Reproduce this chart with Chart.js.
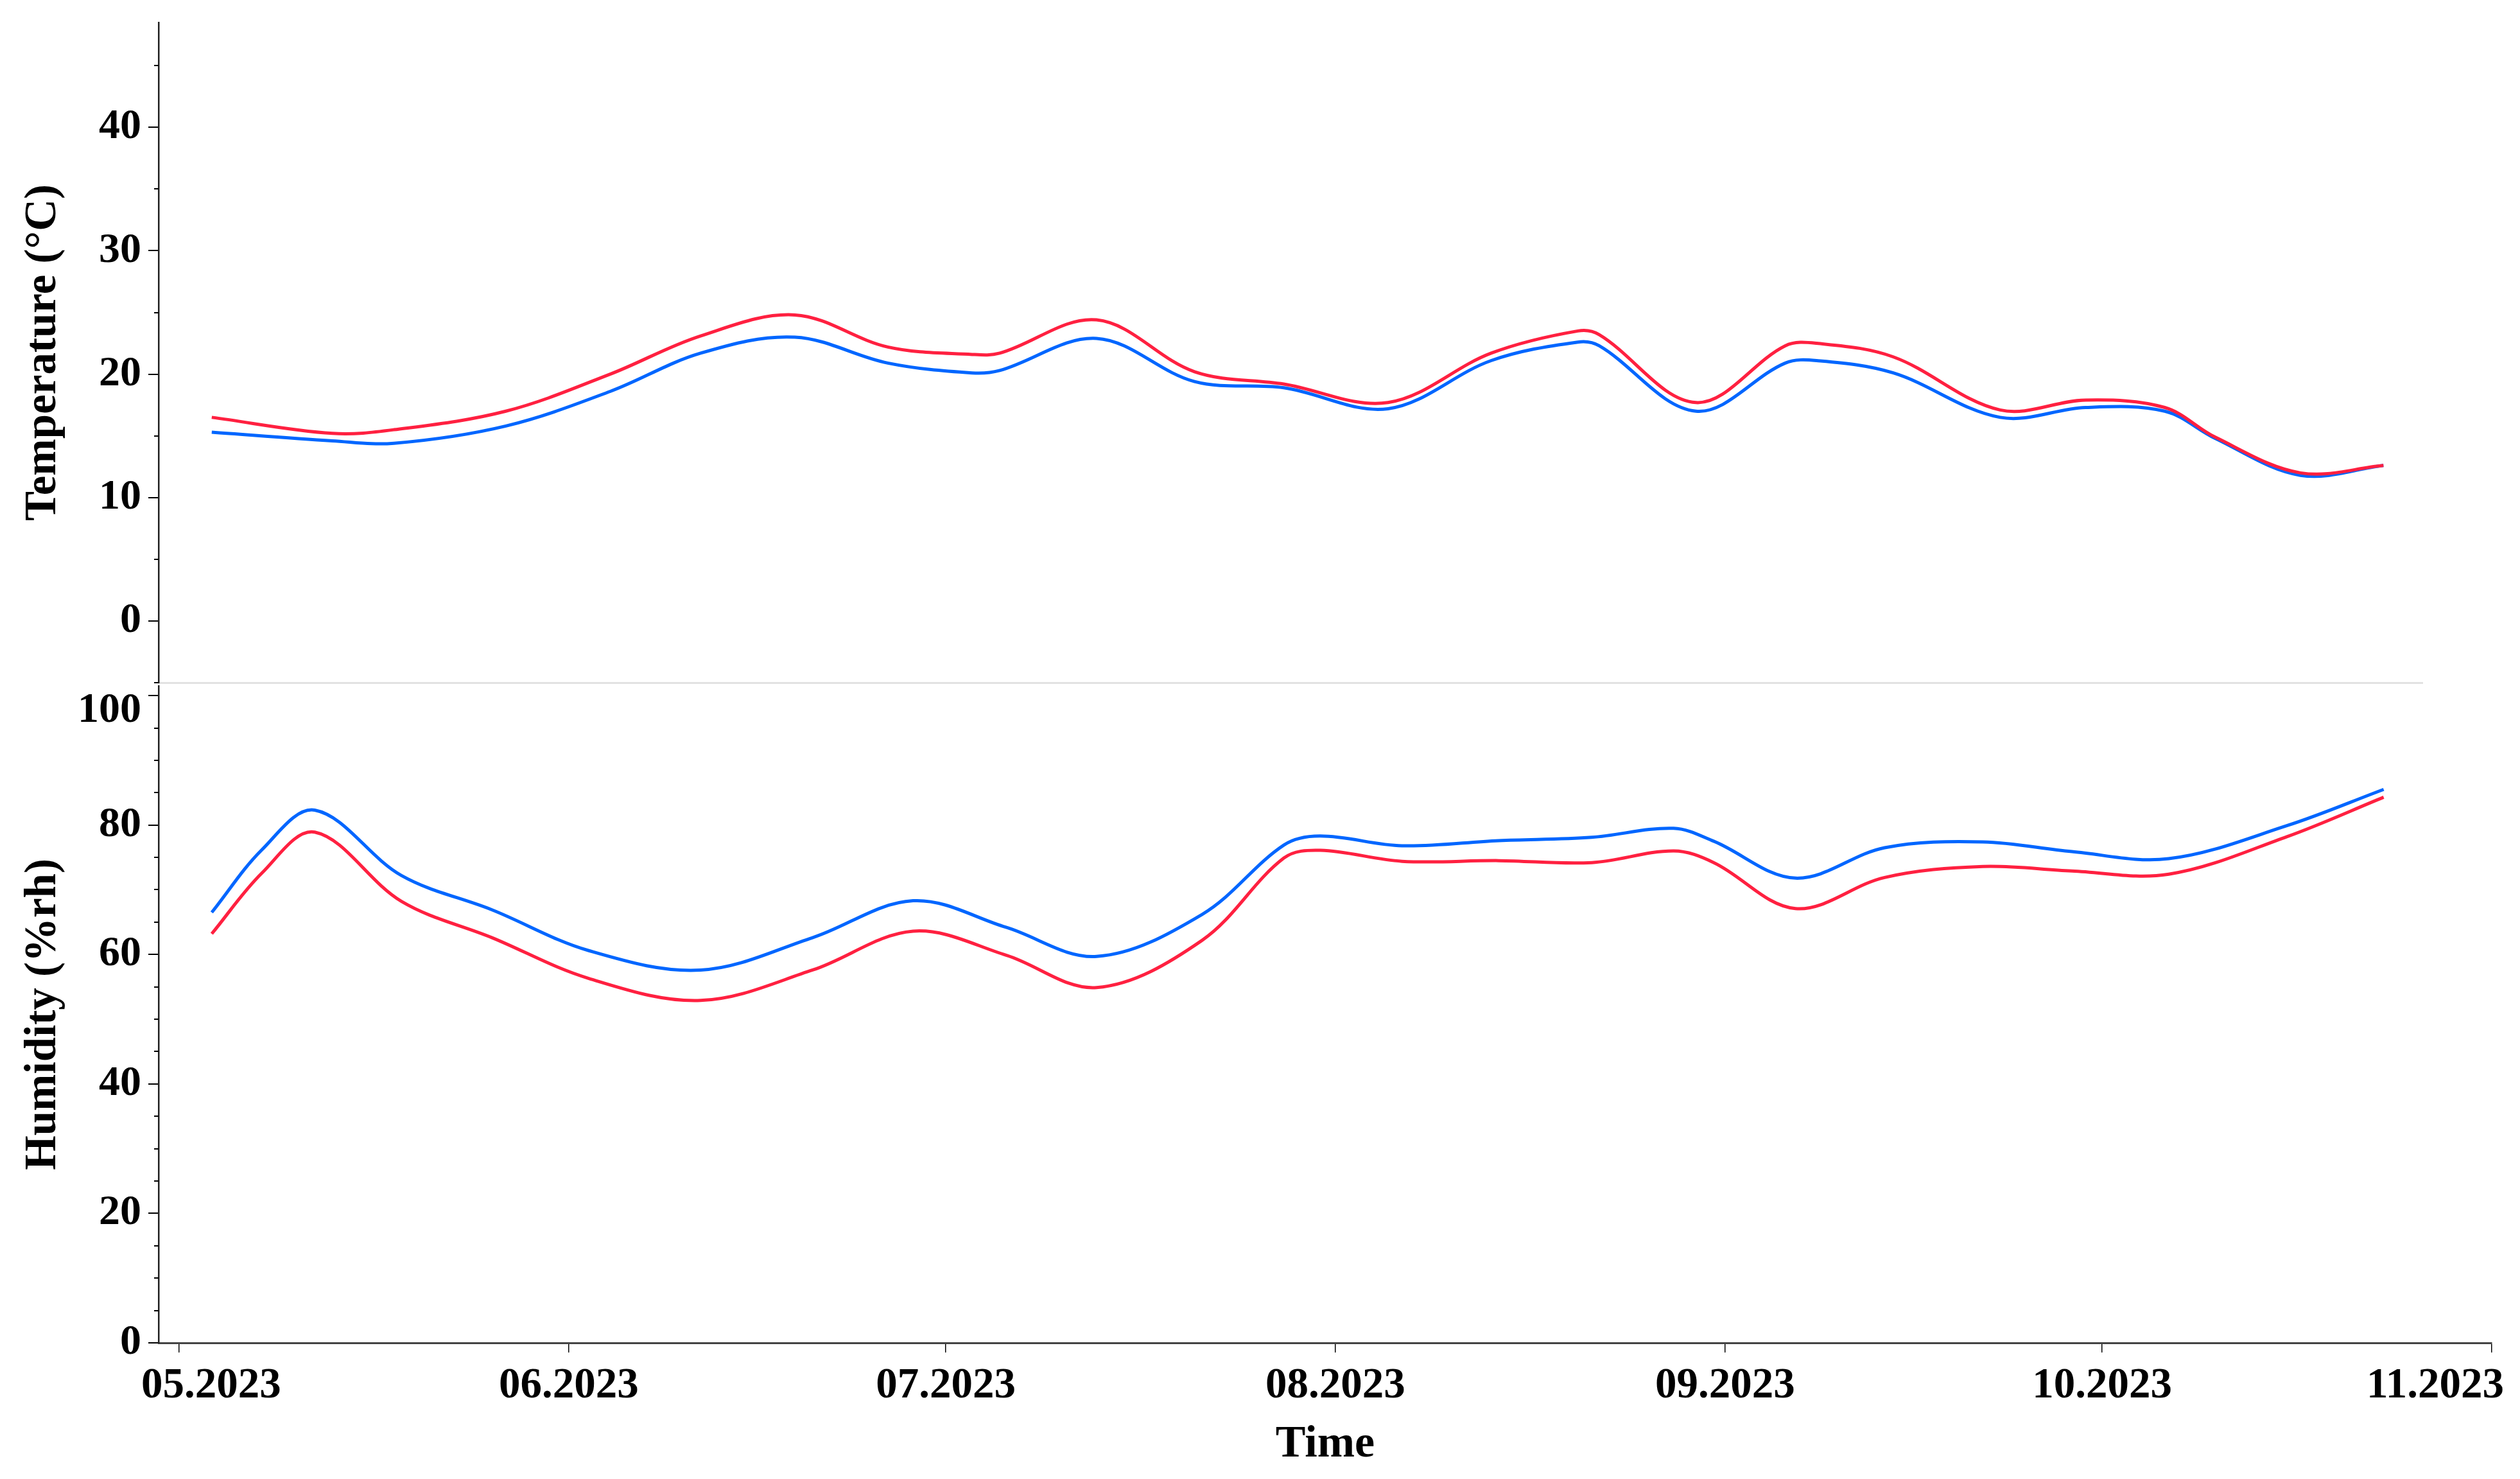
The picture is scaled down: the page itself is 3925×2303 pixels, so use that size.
<!DOCTYPE html>
<html>
<head>
<meta charset="utf-8">
<script src="https://cdn.jsdelivr.net/npm/chart.js@4.4.1/dist/chart.umd.min.js"></script>
<style>
  html, body { margin: 0; padding: 0; background: #fff; overflow: hidden; }
  #wrap { position: relative; width: 3925px; height: 2303px; }
  #wrap canvas { position: absolute; left: 0; top: 0; }
</style>
</head>
<body>
<div id="wrap">
  <canvas id="tempChart" width="3925" height="1070"></canvas>
  <canvas id="humChart" width="3925" height="2303"></canvas>
</div>
<script>
// x values are days counted from 01.05.2023
const tempDays = [2.6, 12.2, 17.1, 26.0, 34.3, 41.5, 49.0, 56.4, 63.1, 65.3, 73.0, 80.8, 87.9,
  96.2, 104.4, 111.3, 113.0, 120.7, 127.8, 130.3, 136.4, 144.9, 151.7, 158.0, 162.0, 168.8, 175.4];
const tempRed = [16.5, 15.2, 15.5, 17.0, 20.0, 23.1, 24.8, 22.2, 21.6, 21.7, 24.4, 20.2, 19.2,
  17.7, 21.7, 23.5, 23.2, 17.7, 22.3, 22.5, 21.4, 17.1, 17.9, 17.3, 14.9, 12.0, 12.6];
const tempBlue = [15.3, 14.6, 14.4, 15.8, 18.6, 21.7, 23.0, 20.9, 20.1, 20.3, 22.9, 19.4, 18.9,
  17.2, 21.1, 22.6, 22.3, 17.0, 20.9, 21.1, 20.1, 16.5, 17.3, 17.0, 14.8, 11.8, 12.6];

const humDays = [2.6, 6.6, 10.8, 17.7, 24.9, 32.6, 41.5, 50.4, 58.4, 65.8, 73.0, 81.4, 87.9,
  90.8, 97.3, 105.0, 112.4, 118.9, 122.1, 128.6, 135.7, 143.5, 150.6, 158.3, 167.7, 175.4];
const humRed = [63.2, 72.6, 78.9, 68.2, 62.6, 56.3, 52.9, 57.6, 63.6, 59.9, 54.9, 62.2, 74.9,
  76.1, 74.4, 74.5, 74.2, 76.0, 74.2, 67.1, 71.9, 73.6, 72.9, 72.4, 78.2, 84.3];
const humBlue = [66.5, 76.2, 82.3, 72.2, 66.9, 60.6, 57.6, 62.6, 68.3, 64.2, 59.7, 66.2, 76.9,
  78.3, 76.8, 77.6, 78.1, 79.5, 77.5, 71.8, 76.5, 77.4, 75.9, 74.8, 79.9, 85.5];

const monthDays = [0, 31, 61, 92, 123, 153, 184];
const monthLabels = ['05.2023', '06.2023', '07.2023', '08.2023', '09.2023', '10.2023', '11.2023'];

const X_MIN = -1.63;
const X_MAX = 184;
const TOP_X_MAX = 178.5;

const RED = 'rgb(255, 32, 64)';
const BLUE = 'rgb(0, 102, 255)';
const FONT = '"Liberation Serif", "Times New Roman", serif';

Chart.defaults.font.family = FONT;
Chart.defaults.color = '#000';

function points(days, vals) {
  return days.map((d, i) => ({ x: d, y: vals[i] }));
}

function lineSet(label, days, vals, color) {
  return {
    label: label,
    data: points(days, vals),
    borderColor: color,
    borderWidth: 5,
    pointRadius: 0,
    fill: false,
    tension: 0.35
  };
}

// short unlabeled ticks every 5 units, plus the top label that sits below its tick
const minorTicks = {
  id: 'minorTicks',
  afterDraw(chart, args, opts) {
    const s = chart.scales.y;
    const ctx = chart.ctx;
    ctx.save();
    ctx.strokeStyle = '#000';
    ctx.lineWidth = 2;
    for (let v = Math.ceil(s.min / 5) * 5; v <= s.max; v += 5) {
      if (v % opts.major === 0) continue;
      const y = Math.round(s.getPixelForValue(v));
      ctx.beginPath();
      ctx.moveTo(s.right - 7, y);
      ctx.lineTo(s.right, y);
      ctx.stroke();
    }
    if (opts.lowered !== undefined) {
      ctx.font = 'bold 66px ' + FONT;
      ctx.fillStyle = '#000';
      ctx.textAlign = 'right';
      ctx.textBaseline = 'middle';
      ctx.fillText(String(opts.lowered), s.right - 27, s.getPixelForValue(opts.lowered) + 24);
    }
    ctx.restore();
  }
};

// month labels, first and last pushed inward so they stay on the page
const monthLabelsPlugin = {
  id: 'monthLabels',
  afterDraw(chart) {
    const s = chart.scales.x;
    const ctx = chart.ctx;
    ctx.save();
    ctx.font = 'bold 67px ' + FONT;
    ctx.fillStyle = '#000';
    ctx.textAlign = 'center';
    ctx.textBaseline = 'middle';
    monthDays.forEach((d, i) => {
      const w = ctx.measureText(monthLabels[i]).width;
      let x = s.getPixelForValue(d);
      x = Math.max(x, 220 + w / 2);
      x = Math.min(x, chart.width - 25 - w / 2);
      ctx.fillText(monthLabels[i], x, s.top + 68);
    });
    ctx.restore();
  }
};

function yAxis(min, max, step, title, hidden) {
  return {
    type: 'linear',
    min: min,
    max: max,
    border: { display: true, color: '#222', width: 2.5 },
    grid: { drawOnChartArea: false, drawTicks: true, tickLength: 16, color: '#000', lineWidth: 2 },
    ticks: {
      stepSize: step,
      includeBounds: false,
      padding: 11,
      font: { size: 66, weight: 'bold' },
      callback: v => (v === hidden ? '' : String(v))
    },
    title: {
      display: true,
      text: title,
      font: { size: 69, weight: 'bold' },
      padding: { top: 27, bottom: 0 }
    },
    afterFit(scale) {
      scale.width = 247;
      scale.paddingTop = 0;
      scale.paddingBottom = 0;
    }
  };
}

new Chart(document.getElementById('tempChart'), {
  type: 'line',
  data: {
    datasets: [
      lineSet('Temperature (red)', tempDays, tempRed, RED),
      lineSet('Temperature (blue)', tempDays, tempBlue, BLUE)
    ]
  },
  options: {
    responsive: false,
    animation: false,
    devicePixelRatio: 1,
    layout: { padding: { top: 35, right: 152, bottom: 7, left: 0 } },
    plugins: { legend: { display: false }, tooltip: { enabled: false }, minorTicks: { major: 10 } },
    scales: {
      x: {
        type: 'linear',
        min: X_MIN,
        max: TOP_X_MAX,
        border: { display: true, color: '#e2e2e2', width: 3 },
        grid: { display: false },
        ticks: { display: false },
        afterFit(scale) {
          scale.height = 0;
          scale.paddingLeft = 0;
          scale.paddingRight = 0;
        }
      },
      y: yAxis(-5, 48.5, 10, 'Temperature (°C)')
    }
  },
  plugins: [minorTicks]
});

new Chart(document.getElementById('humChart'), {
  type: 'line',
  data: {
    datasets: [
      lineSet('Humidity (red)', humDays, humRed, RED),
      lineSet('Humidity (blue)', humDays, humBlue, BLUE)
    ]
  },
  options: {
    responsive: false,
    animation: false,
    devicePixelRatio: 1,
    layout: { padding: { top: 1068, right: 44, bottom: 0, left: 0 } },
    plugins: {
      legend: { display: false },
      tooltip: { enabled: false },
      minorTicks: { major: 20, lowered: 100 }
    },
    scales: {
      x: {
        type: 'linear',
        min: X_MIN,
        max: X_MAX,
        border: { display: true, color: '#444', width: 3 },
        grid: { drawOnChartArea: false, drawTicks: true, tickLength: 15, color: '#000', lineWidth: 1.5 },
        ticks: { color: 'rgba(0,0,0,0)', font: { size: 67, weight: 'bold' } },
        afterBuildTicks(scale) {
          scale.ticks = monthDays.map(d => ({ value: d }));
        },
        title: {
          display: true,
          text: 'Time',
          font: { size: 70, weight: 'bold' },
          padding: { top: 0, bottom: 11 }
        },
        afterFit(scale) {
          scale.height = 212;
          scale.paddingLeft = 0;
          scale.paddingRight = 0;
        }
      },
      y: yAxis(0, 101.5, 20, 'Humidity (%rh)', 100)
    }
  },
  plugins: [minorTicks, monthLabelsPlugin]
});
</script>
</body>
</html>
